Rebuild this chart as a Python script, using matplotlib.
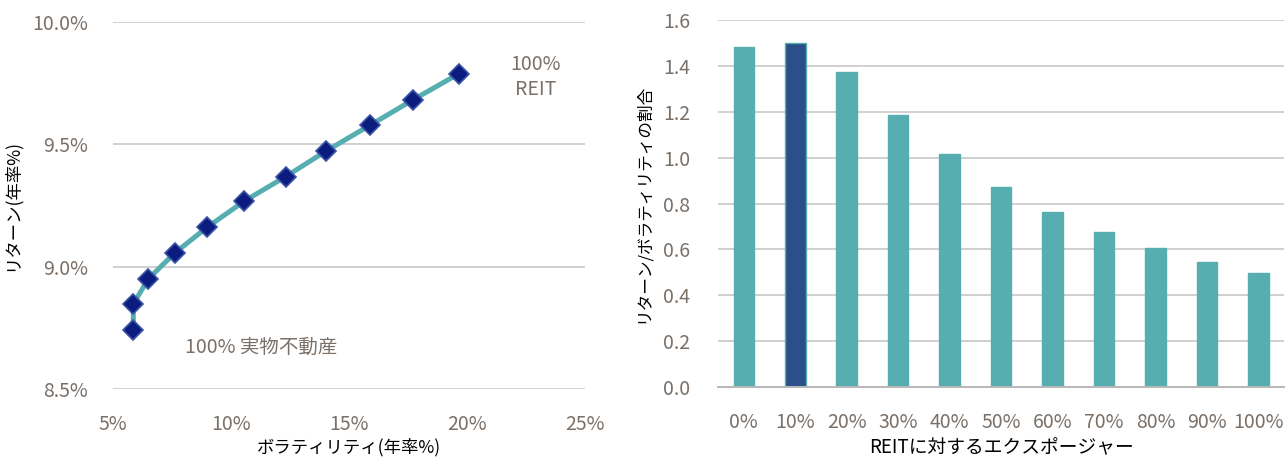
import matplotlib
matplotlib.use('Agg')
import matplotlib.pyplot as plt

plt.rcParams['font.family'] = ['Noto Sans CJK JP', 'DejaVu Sans']

# left chart: volatility vs return (annual %)
volatility = [5.86, 5.86, 6.5, 7.61, 8.98, 10.57, 12.32, 14.04, 15.88, 17.72, 19.65]
returns = [8.74, 8.847, 8.95, 9.055, 9.16, 9.268, 9.368, 9.473, 9.577, 9.682, 9.788]

# right chart: return / volatility by REIT exposure
exposure = ['0%', '10%', '20%', '30%', '40%', '50%', '60%', '70%', '80%', '90%', '100%']
ratio = [1.481, 1.50, 1.372, 1.186, 1.015, 0.874, 0.762, 0.675, 0.605, 0.547, 0.499]
highlight = '10%'

teal = '#56AEB0'
navy = '#2B5089'
tick_col = '#7A7068'
grid_col = '#C8C8C8'

fig = plt.figure(figsize=(12.87, 4.57), dpi=100)

# ---- left
ax1 = fig.add_axes([0.0878, 0.149, 0.3667, 0.803])
ax1.plot(volatility, returns, color=teal, linewidth=3.6, zorder=2)
ax1.plot(volatility, returns, linestyle='none', marker='D', markersize=10,
         markerfacecolor='#0B1C7E', markeredgecolor='#3A55A8', markeredgewidth=1.2, zorder=3)
ax1.set_xlim(5, 25)
ax1.set_ylim(8.5, 10.0)
ax1.set_xticks([5, 10, 15, 20, 25])
ax1.set_xticklabels(['5%', '10%', '15%', '20%', '25%'])
ax1.set_yticks([8.5, 9.0, 9.5, 10.0])
ax1.set_yticklabels(['8.5%', '9.0%', '9.5%', '10.0%'])
ax1.yaxis.grid(True, color=grid_col, linewidth=1.2)
ax1.set_axisbelow(True)
for s in ax1.spines.values():
    s.set_visible(False)
ax1.tick_params(length=0, labelsize=14, labelcolor=tick_col, pad=18)
ax1.set_xlabel('ボラティリティ(年率%)', fontsize=12.5, labelpad=2)
ax1.set_ylabel('リターン(年率%)', fontsize=12.5, labelpad=8)
ax1.text(22.9, 9.775, '100%\nREIT', fontsize=14, color=tick_col, ha='center', va='center',
         linespacing=1.25)
ax1.text(8.05, 8.67, '100% 実物不動産', fontsize=14, color=tick_col, ha='left', va='center')

# ---- right
ax2 = fig.add_axes([0.558, 0.153, 0.4397, 0.803])
colors = [navy if e == highlight else teal for e in exposure]
ax2.bar(exposure, ratio, width=0.4, color=colors, edgecolor=teal, linewidth=1.0, zorder=2)
ax2.set_xlim(-0.5, len(exposure) - 0.5)
ax2.set_ylim(0, 1.6)
yt = [0.0, 0.2, 0.4, 0.6, 0.8, 1.0, 1.2, 1.4, 1.6]
ax2.set_yticks(yt)
ax2.set_yticklabels([f'{v:.1f}' for v in yt])
ax2.yaxis.grid(True, color=grid_col, linewidth=1.2)
ax2.set_axisbelow(True)
for s in ['top', 'right', 'left']:
    ax2.spines[s].set_visible(False)
ax2.spines['bottom'].set_color('#B8B8B8')
ax2.spines['bottom'].set_linewidth(1.4)
ax2.tick_params(length=0, labelsize=14, labelcolor=tick_col, pad=18)
ax2.tick_params(axis='y', pad=20)
ax2.set_xlabel('REITに対するエクスポージャー', fontsize=13.5, labelpad=3)
ax2.set_ylabel('リターン/ボラティリティの割合', fontsize=12, labelpad=8)

fig.savefig('out.png', dpi=100)
